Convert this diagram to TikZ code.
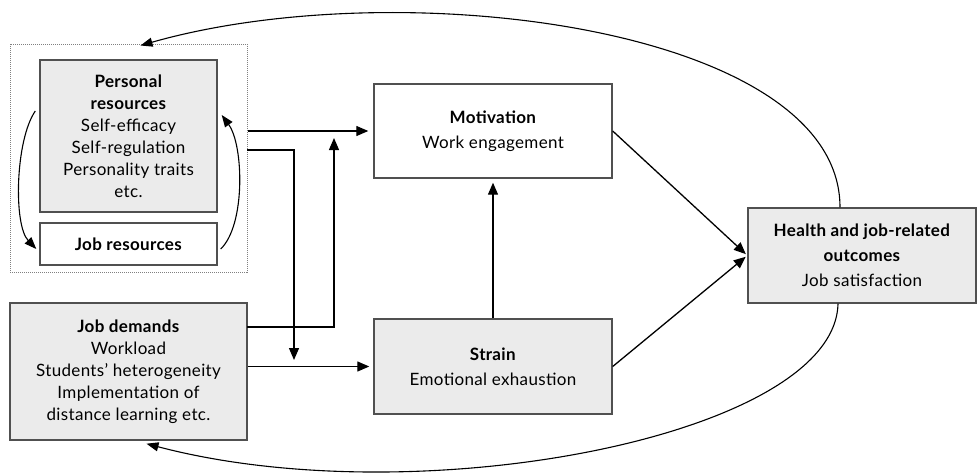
\documentclass[tikz,border=0pt]{standalone}
\usepackage{fontspec}
\setmainfont{Lato}[LetterSpace=2]
\usepackage{tikz}
\usetikzlibrary{arrows.meta}
\usepackage{xcolor}
\definecolor{boxgray}{HTML}{EBEBEB}
\definecolor{edgegray}{HTML}{505050}

\begin{document}
\begin{tikzpicture}[x=1pt,y=-1pt,
box/.style={draw=edgegray,line width=1.4pt,rectangle,align=center,inner sep=2pt,
  font=\fontsize{17}{22}\selectfont},
wide/.style={font=\fontsize{17}{25}\selectfont},
greybox/.style={box,fill=boxgray},
arr/.style={line width=1.3pt,-{Triangle[length=12pt,width=10pt]}},
loop/.style={line width=1.1pt,-{Triangle[length=12pt,width=9pt]}}]
\useasboundingbox (0,0) rectangle (977,474);
%\tikzstyle{every node}=[draw]

\node[draw=gray,densely dotted,line width=1pt,minimum width=237,minimum height=228] (Res) at (128.5,158) {};
\node[greybox,minimum width=177,minimum height=152] (PR) at (128.5,136)
  {\textbf{Personal}\\\textbf{resources}\\Self-efficacy\\Self-regulation\\Personality traits\\etc.};
\node[box,minimum width=177,minimum height=42] (JR) at (128.5,244) {\textbf{Job resources}};
\node[greybox,minimum width=237,minimum height=137] (JD) at (128.5,371.5)
  {\textbf{Job demands}\\Workload\\Students’ heterogeneity\\Implementation of\\distance learning etc.};
\node[box,wide,minimum width=238,minimum height=94] (Mot) at (493,131) {\textbf{Motivation}\\Work engagement};
\node[greybox,wide,minimum width=238,minimum height=95] (Str) at (493,366.5) {\textbf{Strain}\\Emotional exhaustion};
\node[greybox,wide,minimum width=228,minimum height=95] (Out) at (862,255.5)
  {\textbf{Health and job-related}\\\textbf{outcomes}\\Job satisfaction};

\coordinate (PRout) at (247,150);
\coordinate (DownTip) at (294,360);
\coordinate (JDout) at (247,327);
\coordinate (UpTip) at (334,138);

\draw[arr,shorten >=5pt] (Mot.west -| Res.east) -- (Mot.west);
\draw[arr] (PRout) -| (DownTip);
\draw[arr] (JDout) -| (UpTip);
\draw[arr,shorten >=4pt] (Str.west -| JD.east) -- (Str.west);
\draw[arr,shorten >=4pt] (Str.north) -- (Mot.south);
\draw[arr,shorten >=2pt] (Mot.east) -- (Out.west);
\draw[arr,shorten >=2pt] (Str.east) -- (Out.west);

\draw[loop] ([xshift=-4pt,yshift=25pt]PR.west) .. controls +(-20,29) and +(-23,-24) .. ([xshift=-3pt,yshift=-5pt]JR.west);
\draw[loop] ([xshift=3pt,yshift=-5pt]JR.east) .. controls +(25,-24) and +(22,30) .. ([xshift=4pt,yshift=21pt]PR.east);

\draw[loop] ([xshift=-22pt]Out.north) .. controls +(0,-180) and +(260,-74) .. ([xshift=12pt,yshift=-2pt]Res.north);
\draw[loop] ([xshift=-24pt]Out.south) .. controls +(-3,132) and +(273,72) .. ([xshift=18pt,yshift=-3pt]JD.south);
\end{tikzpicture}
\end{document}
